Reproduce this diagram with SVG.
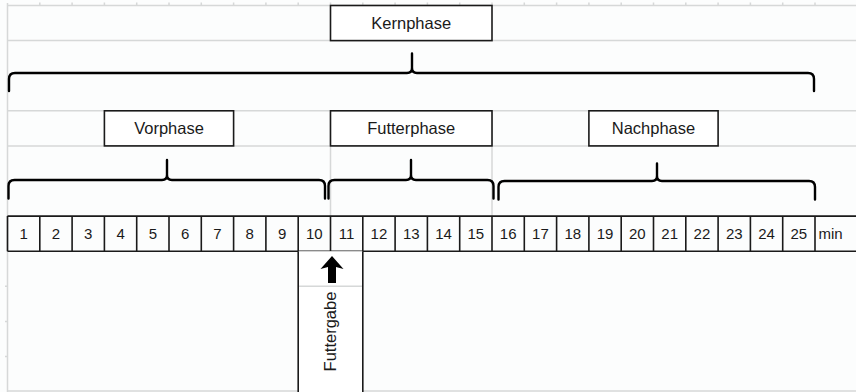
<svg xmlns="http://www.w3.org/2000/svg" width="856" height="392" viewBox="0 0 856 392">
<style>
.grid{stroke:#d6d8d8;stroke-width:1.5;fill:none}
.box{fill:#ffffff;stroke:#1a1a1a;stroke-width:1.6}
.cell{stroke:#1a1a1a;stroke-width:1.6;fill:none}
.lbl{font-family:"Liberation Sans",Arial,sans-serif;font-size:16.5px;fill:#1a1a1a;text-anchor:middle}
.num{font-family:"Liberation Sans",Arial,sans-serif;font-size:15px;fill:#1a1a1a;text-anchor:middle}
.brace{fill:none;stroke:#000;stroke-width:2.4;stroke-linejoin:round;stroke-linecap:round}
</style>
<rect x="0" y="0" width="856" height="392" fill="#fcfdfd"/>
<g id="grid" class="grid">
<path d="M7.5 5.5H856M7.5 40.6H856M7.5 110.8H856M7.5 145.9H856M7.5 391H298M362.8 391H856M7.5 3V392M330.5 110.8V216.1M492 110.8V216.1"/>
<path d="M39.8 2.5V5.5M72.1 2.5V5.5M104.4 2.5V5.5M136.7 2.5V5.5M169 2.5V5.5M201.3 2.5V5.5M233.6 2.5V5.5M265.9 2.5V5.5M298.2 2.5V5.5M330.5 2.5V5.5M362.8 2.5V5.5M395.1 2.5V5.5M427.4 2.5V5.5M459.7 2.5V5.5M492 2.5V5.5M524.3 2.5V5.5M556.6 2.5V5.5M588.9 2.5V5.5M621.2 2.5V5.5M653.5 2.5V5.5M685.8 2.5V5.5M718.1 2.5V5.5M750.4 2.5V5.5M782.7 2.5V5.5M815 2.5V5.5"/>
<path d="M5 286.3H7.5M5 321.4H7.5M5 356.5H7.5"/>
</g>
<g id="kernphase">
<rect class="box" x="330.5" y="5.5" width="161.5" height="35.1"/>
<text class="lbl" x="411.2" y="28.8">Kernphase</text>
</g>
<g id="vorphase">
<rect class="box" x="104.4" y="110.8" width="129.2" height="35.1"/>
<text class="lbl" x="169" y="134.2">Vorphase</text>
</g>
<g id="futterphase">
<rect class="box" x="330.5" y="110.8" width="161.5" height="35.1"/>
<text class="lbl" x="411.2" y="134.2">Futterphase</text>
</g>
<g id="nachphase">
<rect class="box" x="588.9" y="110.8" width="129.2" height="35.1"/>
<text class="lbl" x="653.5" y="134.2">Nachphase</text>
</g>
<g id="connectors">
<path class="brace" d="M9 91V79Q9 73 15 73H407Q412 73 412 68V53.5M412 68Q412 73 417 73H808Q814 73 814 79V91"/>
<path class="brace" d="M8.5 198.5V186Q8.5 180 14.5 180H162Q167 180 167 175V160M167 175Q167 180 172 180H319Q325 180 325 186V198.5"/>
<path class="brace" d="M328.5 198.5V186Q328.5 180 334.5 180H406Q411 180 411 175V160M411 175Q411 180 416 180H487.5Q493.5 180 493.5 186V198.5"/>
<path class="brace" d="M498.5 199.5V187Q498.5 181 504.5 181H652Q657 181 657 176V163.5M657 176Q657 181 662 181H809Q815 181 815 187V199.5"/>
</g>
<g id="timeline">
<path class="cell" d="M7.5 216.1H856M7.5 251.2H856M7.5 216.1V251.2M39.8 216.1V251.2M72.1 216.1V251.2M104.4 216.1V251.2M136.7 216.1V251.2M169 216.1V251.2M201.3 216.1V251.2M233.6 216.1V251.2M265.9 216.1V251.2M298.2 216.1V251.2M330.5 216.1V251.2M362.8 216.1V251.2M395.1 216.1V251.2M427.4 216.1V251.2M459.7 216.1V251.2M492 216.1V251.2M524.3 216.1V251.2M556.6 216.1V251.2M588.9 216.1V251.2M621.2 216.1V251.2M653.5 216.1V251.2M685.8 216.1V251.2M718.1 216.1V251.2M750.4 216.1V251.2M782.7 216.1V251.2M815 216.1V251.2"/>
<text class="num" y="239.3"><tspan x="23.65">1</tspan><tspan x="55.95">2</tspan><tspan x="88.25">3</tspan><tspan x="120.55">4</tspan><tspan x="152.85">5</tspan><tspan x="185.15">6</tspan><tspan x="217.45">7</tspan><tspan x="249.75">8</tspan><tspan x="282.05">9</tspan><tspan x="314.35">10</tspan><tspan x="346.65">11</tspan><tspan x="378.95">12</tspan><tspan x="411.25">13</tspan><tspan x="443.55">14</tspan><tspan x="475.85">15</tspan><tspan x="508.15">16</tspan><tspan x="540.45">17</tspan><tspan x="572.75">18</tspan><tspan x="605.05">19</tspan><tspan x="637.35">20</tspan><tspan x="669.65">21</tspan><tspan x="701.95">22</tspan><tspan x="734.25">23</tspan><tspan x="766.55">24</tspan><tspan x="798.85">25</tspan></text>
<text class="num" x="818.5" y="239.3" style="text-anchor:start">min</text>
</g>
<g id="futtergabe">
<rect x="298.2" y="251.2" width="64.6" height="141" fill="#ffffff"/>
<path class="grid" d="M298.2 286.3H362.8"/>
<path class="cell" d="M298.2 251.2V392M362.8 251.2V392"/>
<polygon points="332,256 343.5,269 336,267 336,283 328,283 328,267 320.5,269" fill="#000"/>
<text class="lbl" x="0" y="0" transform="translate(336 331.5) rotate(-90)">Futtergabe</text>
</g>
</svg>
